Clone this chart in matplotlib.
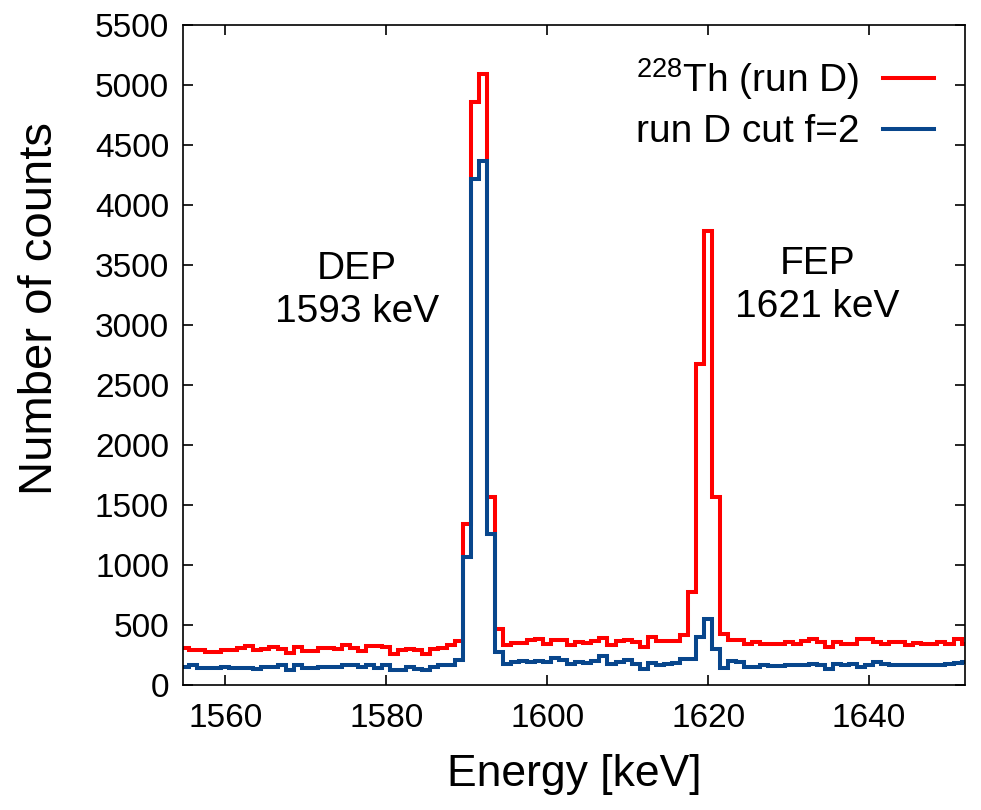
import numpy as np
import matplotlib
matplotlib.use('Agg')
import matplotlib.pyplot as plt

plt.rcParams['font.family'] = ['Liberation Sans', 'DejaVu Sans']
plt.rcParams['mathtext.default'] = 'regular'

# 1 keV bins, first bin centred at 1555 keV
first_bin = 1555
red_counts = [311, 297, 297, 278, 278, 292, 297, 311, 325, 297,
              305, 319, 305, 269, 319, 283, 283, 311, 311, 305,
              339, 311, 283, 325, 325, 319, 264, 292, 305, 292,
              264, 305, 311, 333, 367, 1346, 4860, 5090, 1569, 472,
              333, 355, 355, 375, 389, 347, 375, 375, 339, 361,
              355, 367, 394, 339, 367, 375, 361, 319, 403, 367,
              367, 367, 416, 777, 2680, 3782, 1569, 430, 375, 375,
              347, 361, 347, 347, 347, 361, 347, 367, 389, 361,
              319, 361, 347, 347, 383, 383, 361, 347, 361, 361,
              333, 355, 347, 347, 361, 347, 389, 347]
blue_counts = [152, 172, 144, 144, 144, 152, 144, 144, 144, 139,
               152, 152, 167, 125, 167, 144, 144, 152, 152, 152,
               172, 172, 152, 167, 144, 167, 125, 125, 152, 139,
               125, 152, 167, 172, 208, 1069, 4220, 4370, 1263, 277,
               180, 190, 200, 190, 205, 195, 227, 208, 180, 194,
               189, 200, 244, 180, 194, 208, 180, 139, 189, 172,
               180, 185, 216, 216, 402, 555, 305, 144, 200, 190,
               150, 155, 167, 161, 161, 172, 167, 172, 180, 167,
               139, 180, 172, 180, 152, 172, 194, 180, 172, 172,
               167, 172, 172, 172, 167, 180, 185, 194]
red_label = r'$^{228}$Th (run D)'
blue_label = 'run D cut f=2'

edges = np.arange(len(red_counts) + 1) + first_bin - 0.5

fig = plt.figure(figsize=(9.81, 8.10), dpi=100)
ax = fig.add_axes([0.1865, 0.154, 0.797, 0.815])

ax.stairs(red_counts, edges, baseline=None, color='#ff0000', linewidth=2.9, label=red_label)
ax.stairs(blue_counts, edges, baseline=None, color='#08468c', linewidth=2.9, label=blue_label)

ax.set_xlim(1554.75, 1651.9)
ax.set_ylim(0, 5500)
ax.set_xticks([1560, 1580, 1600, 1620, 1640])
ax.set_yticks(np.arange(0, 5501, 500))
ax.tick_params(direction='in', length=7, width=1.2, labelsize=24,
               top=True, right=True)
ax.tick_params(axis='x', pad=13)
ax.tick_params(axis='y', pad=10)
for s in ax.spines.values():
    s.set_linewidth(1.2)

ax.set_xlabel('Energy [keV]', fontsize=32, labelpad=14)
ax.set_ylabel('Number of counts', fontsize=34)
ax.yaxis.set_label_coords(-0.155, 0.57)

ax.text(1576.4, 3290, 'DEP\n1593 keV', fontsize=28, ha='center', va='center', linespacing=1.25)
ax.text(1633.6, 3330, 'FEP\n1621 keV', fontsize=28, ha='center', va='center', linespacing=1.25)

ax.legend(loc='upper right', frameon=False, markerfirst=False, fontsize=28,
          handlelength=1.3, handletextpad=0.6, borderaxespad=0.45, labelspacing=0.32,
          borderpad=0.35)

fig.savefig('out.png', dpi=100)
